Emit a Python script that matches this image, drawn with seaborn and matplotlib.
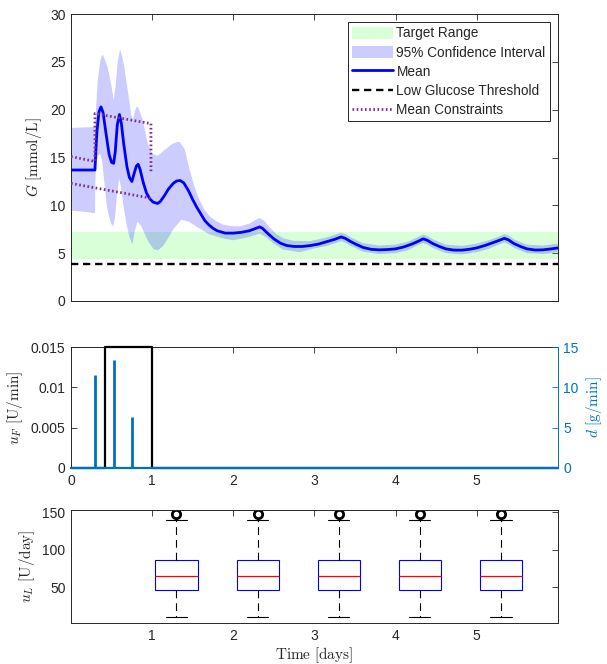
import matplotlib
matplotlib.use("Agg")
import numpy as np
import pandas as pd
import matplotlib.pyplot as plt
import seaborn as sns
from matplotlib.patches import Patch
from matplotlib.lines import Line2D

# ---------------- data ----------------
t_mean = [0, 0.295, 0.305, 0.32, 0.345, 0.37, 0.395, 0.43, 0.47, 0.50,
          0.525, 0.545, 0.57, 0.597, 0.62, 0.65, 0.69, 0.72, 0.75, 0.78,
          0.805, 0.827, 0.85, 0.89, 0.93, 0.97, 1.01, 1.065, 1.10, 1.15,
          1.20, 1.26, 1.30, 1.345, 1.39, 1.45, 1.50, 1.55, 1.60, 1.65,
          1.70, 1.75, 1.80, 1.90, 2.00, 2.10, 2.20, 2.28, 2.325, 2.36,
          2.42, 2.50, 2.58, 2.66, 2.75, 2.85, 2.95, 3.05, 3.15, 3.25,
          3.33, 3.38, 3.45, 3.52, 3.60, 3.70, 3.80, 3.90, 4.00, 4.10,
          4.20, 4.28, 4.34, 4.39, 4.46, 4.54, 4.62, 4.72, 4.82, 4.92,
          5.00, 5.10, 5.20, 5.28, 5.34, 5.39, 5.46, 5.54, 5.62, 5.72,
          5.82, 5.92, 6.00]
G_mean = [13.7, 13.7, 15.5, 17.8, 19.8, 20.3, 19.7, 17.6, 15.3, 14.5,
          14.4, 15.6, 18.4, 19.5, 18.6, 16.4, 14.0, 12.9, 12.5, 13.4,
          14.1, 14.3, 13.8, 12.4, 11.3, 10.7, 10.35, 10.2, 10.4, 11.0,
          11.7, 12.3, 12.55, 12.6, 12.35, 11.5, 10.6, 9.8, 9.1, 8.4,
          7.95, 7.6, 7.35, 7.1, 7.1, 7.18, 7.35, 7.6, 7.75, 7.6,
          7.1, 6.5, 6.05, 5.8, 5.7, 5.7, 5.8, 5.95, 6.2, 6.45,
          6.7, 6.55, 6.2, 5.9, 5.6, 5.4, 5.35, 5.38, 5.45, 5.65,
          5.95, 6.25, 6.5, 6.35, 6.0, 5.7, 5.45, 5.32, 5.32, 5.42,
          5.55, 5.8, 6.1, 6.35, 6.55, 6.4, 6.0, 5.7, 5.45, 5.33,
          5.35, 5.45, 5.55]

ci_hi_t = [0, 0.295, 0.31, 0.33, 0.36, 0.39, 0.42, 0.452, 0.494, 0.526,
           0.55, 0.575, 0.605, 0.63, 0.658, 0.70, 0.74, 0.76, 0.79, 0.815,
           0.845, 0.884, 0.946, 1.0, 1.058, 1.09, 1.14, 1.243, 1.30, 1.337,
           1.40, 1.46, 1.52, 1.58, 1.64, 1.71, 1.79, 1.87, 1.96, 2.08,
           2.20, 2.27, 2.325, 2.38, 2.45, 2.53, 2.62, 2.74, 2.94, 3.15,
           3.28, 3.33, 3.38, 3.45, 3.6, 3.8, 4.0, 4.15, 4.29, 4.34,
           4.39, 4.46, 4.62, 4.82, 5.0, 5.15, 5.29, 5.34, 5.39, 5.46,
           5.62, 5.82, 6.0]
ci_hi = [18.1, 18.2, 20.3, 23.1, 25.1, 25.8, 25.2, 24.4, 22.7, 21.0,
         22.5, 25.0, 26.3, 25.6, 24.4, 22.0, 19.6, 18.9, 19.9, 20.4,
         19.9, 18.9, 16.5, 15.4, 15.2, 15.3, 15.7, 16.4, 16.6, 16.65,
         15.9, 13.8, 12.0, 10.6, 9.6, 8.85, 8.35, 8.0, 7.85, 7.8,
         8.1, 8.45, 8.7, 8.4, 7.7, 7.0, 6.55, 6.3, 6.25, 6.65,
         7.0, 7.15, 7.0, 6.65, 6.05, 5.8, 5.9, 6.2, 6.75, 6.95,
         6.8, 6.45, 5.9, 5.77, 6.0, 6.35, 6.8, 7.0, 6.85, 6.45,
         5.9, 5.8, 6.0]

ci_lo_t = [0, 0.295, 0.30, 0.31, 0.335, 0.358, 0.38, 0.41, 0.44, 0.47,
           0.50, 0.52, 0.545, 0.565, 0.593, 0.615, 0.645, 0.68, 0.72, 0.757,
           0.785, 0.82, 0.86, 0.91, 0.96, 1.02, 1.07, 1.13, 1.20, 1.26,
           1.36, 1.45, 1.58, 1.70, 1.79, 1.90, 2.0, 2.2, 2.325, 2.40,
           2.50, 2.61, 2.82, 3.0, 3.15, 3.28, 3.33, 3.38, 3.45, 3.6,
           3.8, 4.0, 4.15, 4.29, 4.34, 4.39, 4.46, 4.62, 4.82, 5.0,
           5.15, 5.29, 5.34, 5.39, 5.46, 5.62, 5.82, 6.0]
ci_lo = [9.47, 9.2, 12.5, 14.5, 15.2, 15.4, 14.8, 12.5, 10.0, 8.8,
         8.0, 7.8, 8.8, 11.0, 12.8, 12.0, 10.0, 8.2, 6.7, 5.9,
         7.3, 8.3, 7.9, 7.0, 6.1, 5.4, 5.3, 5.7, 6.6, 7.5,
         8.5, 8.3, 7.6, 7.0, 6.76, 6.5, 6.35, 6.7, 7.05, 6.7,
         6.0, 5.38, 5.1, 5.5, 5.75, 6.1, 6.25, 6.1, 5.75, 5.15,
         4.9, 5.0, 5.3, 5.9, 6.05, 5.9, 5.55, 5.0, 4.87, 5.1,
         5.45, 5.95, 6.1, 5.95, 5.55, 5.0, 4.9, 5.1]

target_range = [4.44, 7.22]
low_threshold = 3.9

constr_up_t = [0, 0.295, 0.295, 0.985, 0.985]
constr_up_G = [15.1, 14.6, 19.6, 18.55, 13.5]
constr_lo_t = [0, 0.985]
constr_lo_G = [12.3, 10.75]

uF_t = [0, 0.416, 1.0, 6.0]
uF_val = [0, 0.015, 0, 0]

meal_t = [0.296, 0.527, 0.753]
meal_d = [11.55, 13.4, 6.36]

box_days = [1.3, 2.3, 3.3, 4.3, 5.3]
uL_samples = [10, 30, 47, 55, 65, 75, 86, 140, 147]

legend_labels = ["Target Range", "95% Confidence Interval", "Mean",
                 "Low Glucose Threshold", "Mean Constraints"]

# ---------------- style ----------------
sns.set_style("white")
plt.rcParams["font.family"] = ["Liberation Sans", "DejaVu Sans"]
plt.rcParams["mathtext.fontset"] = "cm"
plt.rcParams["axes.linewidth"] = 0.7
plt.rcParams["axes.edgecolor"] = "#262626"
plt.rcParams["xtick.labelsize"] = 10
plt.rcParams["ytick.labelsize"] = 10

AX = "#262626"
BLUE_D = (0, 0.447, 0.741)
PURPLE = (0.494, 0.184, 0.556)
DOT = (0, (0.6, 0.9))

fig = plt.figure(figsize=(6.07, 6.64), dpi=100)
ax1 = fig.add_axes([0.117, 0.5467, 0.802, 0.432])
ax2 = fig.add_axes([0.117, 0.2952, 0.802, 0.182])
ax3 = fig.add_axes([0.117, 0.0617, 0.802, 0.170])


def style_ticks(ax, right=True):
    ax.tick_params(direction="in", length=4, width=0.6, color=AX,
                   labelcolor=AX, top=True, right=right, pad=4)
    for s in ax.spines.values():
        s.set_color(AX)
        s.set_linewidth(0.7)


# ---------------- top panel ----------------
ax1.axhspan(target_range[0], target_range[1], color=(0, 1, 0), alpha=0.15, lw=0, zorder=1)
ax1.fill(np.r_[ci_hi_t, ci_lo_t[::-1]], np.r_[ci_hi, ci_lo[::-1]],
         color=(0, 0, 1), alpha=0.2, lw=0, zorder=2)
sns.lineplot(x=t_mean, y=G_mean, ax=ax1, color="blue", lw=2,
             estimator=None, sort=False, zorder=4)
ax1.axhline(low_threshold, color="black", lw=1.7, dashes=(3.1, 2.0), zorder=3)
sns.lineplot(x=constr_up_t, y=constr_up_G, ax=ax1, color=PURPLE, lw=2,
             linestyle=DOT, estimator=None, sort=False, zorder=5)
sns.lineplot(x=constr_lo_t, y=constr_lo_G, ax=ax1, color=PURPLE, lw=2,
             linestyle=DOT, estimator=None, sort=False, zorder=5)
ax1.set_xlim(0, 6)
ax1.set_ylim(0, 30)
ax1.set_yticks(range(0, 31, 5))
ax1.set_xticks(range(0, 6))
ax1.set_xticklabels([])
ax1.set_ylabel(r"$G\ \mathrm{[mmol/L]}$", fontsize=11, color=AX)
style_ticks(ax1)

handles = [Patch(facecolor=(0, 1, 0, 0.15), edgecolor="none"),
           Patch(facecolor=(0, 0, 1, 0.2), edgecolor="none"),
           Line2D([], [], color="blue", lw=2),
           Line2D([], [], color="black", lw=1.7, dashes=(3.1, 2.0)),
           Line2D([], [], color=PURPLE, lw=2, linestyle=DOT)]
leg = ax1.legend(handles, legend_labels, loc="upper right", fancybox=False,
                 edgecolor=AX, framealpha=1, fontsize=9.8, handlelength=3.0,
                 handleheight=1.0, handletextpad=0.25, labelspacing=0.38,
                 borderpad=0.3, borderaxespad=0.6)
leg.get_frame().set_linewidth(0.7)

# ---------------- middle panel ----------------
sns.lineplot(x=uF_t, y=uF_val, ax=ax2, color="black", lw=1.6,
             drawstyle="steps-post", estimator=None, sort=False,
             clip_on=False, zorder=3)
ax2.set_xlim(0, 6)
ax2.set_ylim(0, 0.015)
ax2.set_yticks([0, 0.005, 0.01, 0.015])
ax2.set_yticklabels(["0", "0.005", "0.01", "0.015"])
ax2.set_xticks(range(0, 6))
ax2.set_ylabel(r"$u_F\ \mathrm{[U/min]}$", fontsize=11, color=AX)
style_ticks(ax2, right=False)
ax2.spines["right"].set_visible(False)

ax2r = ax2.twinx()
ax2r.vlines(meal_t, 0, meal_d, color=BLUE_D, lw=2.0, zorder=3)
ax2r.axhline(0, color=BLUE_D, lw=1.6, clip_on=False, zorder=3)
ax2r.set_ylim(0, 15)
ax2r.set_yticks([0, 5, 10, 15])
ax2r.tick_params(direction="in", length=4, width=0.6, color=BLUE_D,
                 labelcolor=BLUE_D, pad=4)
for k in ["left", "top", "bottom"]:
    ax2r.spines[k].set_visible(False)
ax2r.spines["right"].set_color(BLUE_D)
ax2r.spines["right"].set_linewidth(0.7)
ax2r.set_ylabel(r"$d\ \mathrm{[g/min]}$", fontsize=11, color=BLUE_D)

# ---------------- bottom panel ----------------
df = pd.DataFrame({"day": np.repeat(box_days, len(uL_samples)),
                   "uL": np.tile(uL_samples, len(box_days))})
sns.boxplot(data=df, x="day", y="uL", ax=ax3, native_scale=True, width=0.52,
            whis=1.5,
            boxprops=dict(facecolor="white", edgecolor="blue", linewidth=0.8),
            medianprops=dict(color="red", linewidth=0.9),
            whiskerprops=dict(color="black", linewidth=0.8, linestyle=(0, (7, 4.5))),
            capprops=dict(color="black", linewidth=0.8),
            flierprops=dict(marker="o", markerfacecolor="none",
                            markeredgecolor="black", markersize=6,
                            markeredgewidth=2))
ax3.set_xlim(0, 6)
ax3.set_ylim(2.5, 152.7)
ax3.set_yticks([50, 100, 150])
ax3.set_xticks([1, 2, 3, 4, 5])
ax3.set_xticklabels(["1", "2", "3", "4", "5"])
ax3.set_xlabel(r"$\mathrm{Time\ [days]}$", fontsize=11, color=AX, labelpad=2)
ax3.set_ylabel(r"$u_L\ \mathrm{[U/day]}$", fontsize=11, color=AX)
style_ticks(ax3)

fig.savefig("out.png", dpi=100)
